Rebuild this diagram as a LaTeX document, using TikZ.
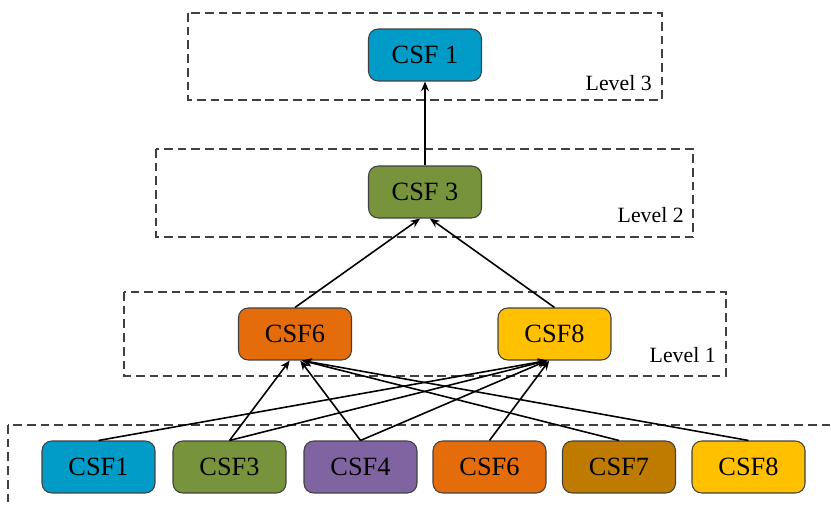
\documentclass[tikz,border=0pt]{standalone}
\usepackage{fontspec}
\setmainfont{Liberation Serif}
\usetikzlibrary{arrows.meta}
\definecolor{csfblue}{RGB}{0,155,198}
\definecolor{csfgreen}{RGB}{119,147,60}
\definecolor{csfpurple}{RGB}{128,100,162}
\definecolor{csforange}{RGB}{228,108,10}
\definecolor{csfbrown}{RGB}{191,122,0}
\definecolor{csfgold}{RGB}{255,192,0}
\tikzset{
csf/.style={draw=black!75,line width=0.6pt,rounded corners=5.5pt,minimum width=2.26cm,minimum height=1.04cm,inner sep=0pt,font=\fontsize{15}{18}\selectfont},
levelbox/.style={draw=black!75,line width=0.7pt,dash pattern=on 5pt off 2.8pt},
levellabel/.style={anchor=east,inner sep=0pt,font=\fontsize{12.4}{15}\selectfont},
edge/.style={draw=black,line width=0.9pt,-{Stealth[length=5.5pt,width=4.5pt]}}
}
\begin{document}
\begin{tikzpicture}[x=0.02cm,y=-0.02cm]
\useasboundingbox (0,0) rectangle (831,506);

%Ebenen
\draw[levelbox] (188,13) rectangle (662,100);
\draw[levelbox] (156,149) rectangle (693,237);
\draw[levelbox] (124,292) rectangle (726,376);
\begin{scope}
\clip (0,0) rectangle (831,506);
\draw[levelbox] (8,425) rectangle (845,520);
\end{scope}
\node[levellabel] (lab3) at (652,83) {Level 3};
\node[levellabel] (lab2) at (684,215) {Level 2};
\node[levellabel] (lab1) at (716,355) {Level 1};

%Knoten
\node[csf,fill=csfblue] (c1) at (425,55) {CSF 1};
\node[csf,fill=csfgreen] (c3) at (425,192) {CSF 3};
\node[csf,fill=csforange] (n6) at (295,334) {CSF6};
\node[csf,fill=csfgold] (n8) at (554.5,334) {CSF8};
\foreach \n/\x/\c in {1/98.5/csfblue, 3/229.5/csfgreen, 4/360.5/csfpurple, 6/489.5/csforange, 7/619/csfbrown, 8/748.5/csfgold}{
\node[csf,fill=\c] (b\n) at (\x,467) {CSF\n};
}

%Pfeile
\foreach \s/\t/\d in {3/6/-3, 4/6/3, 7/6/4, 8/6/4, 1/8/-4, 3/8/-4, 4/8/-4, 6/8/-3}{
\draw[edge] (b\s.north) -- ([xshift=\d pt]n\t.south);
}
\draw[edge] (n6.north) -- ([xshift=-2.8pt]c3.south);
\draw[edge] (n8.north) -- ([xshift=2.8pt]c3.south);
\draw[edge] (c3.north) -- (c1.south);

\end{tikzpicture}
\end{document}
